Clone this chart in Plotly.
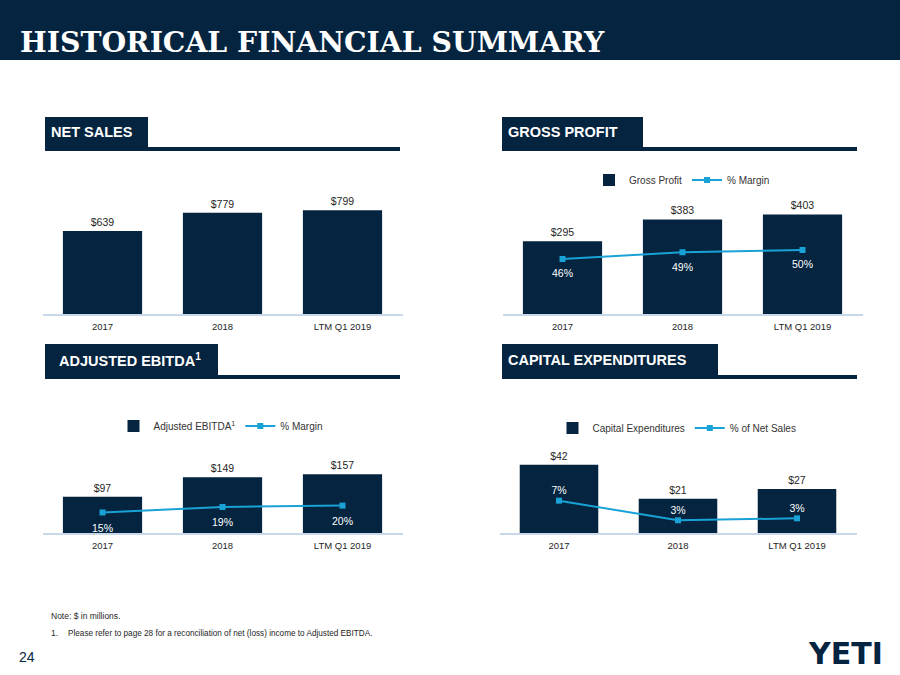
import plotly.graph_objects as go

W, H = 900, 675
NAVY = "#04243f"
BLUE = "#19a2d6"
AXIS = "#c8d8ea"
TXT = "#262626"
FONT = "Liberation Sans, Arial, sans-serif"

categories = ["2017", "2018", "LTM Q1 2019"]
net_sales = [639, 779, 799]
gross_profit = [295, 383, 403]
gross_margin = [46, 49, 50]
adj_ebitda = [97, 149, 157]
ebitda_margin = [15, 19, 20]
capex = [42, 21, 27]
capex_pct = [6.6, 2.6, 3.0]


def px_x(p):
    return p / W


def px_y(p):
    return 1 - p / H


fig = go.Figure()

bar_kw = dict(marker=dict(color=NAVY, line=dict(width=0)), width=0.66,
              texttemplate="$%{y}", textposition="outside",
              textfont=dict(size=10.5, color=TXT, family=FONT), cliponaxis=False)
line_kw = dict(mode="lines+markers", line=dict(color=BLUE, width=2),
               marker=dict(symbol="square", size=6, color=BLUE), cliponaxis=False)
label_kw = dict(mode="markers+text", marker=dict(size=15, color="rgba(0,0,0,0)"),
                texttemplate="%{y:.0f}%", textfont=dict(size=10.5, color="white", family=FONT),
                showlegend=False, hoverinfo="skip", cliponaxis=False)

fig.add_trace(go.Bar(x=categories, y=net_sales, name="Net Sales", xaxis="x", yaxis="y",
                     showlegend=False, **bar_kw))

fig.add_trace(go.Bar(x=categories, y=gross_profit, name="Gross Profit", xaxis="x2", yaxis="y2",
                     legend="legend", **bar_kw))
fig.add_trace(go.Scatter(x=categories, y=gross_margin, name="% Margin", xaxis="x2", yaxis="y3",
                         legend="legend", **line_kw))
fig.add_trace(go.Scatter(x=categories, y=gross_margin, xaxis="x2", yaxis="y3",
                         textposition="bottom center", **label_kw))

fig.add_trace(go.Bar(x=categories, y=adj_ebitda, name="Adjusted EBITDA<sup>1</sup>", xaxis="x3", yaxis="y4",
                     legend="legend2", **bar_kw))
fig.add_trace(go.Scatter(x=categories, y=ebitda_margin, name="% Margin", xaxis="x3", yaxis="y5",
                         legend="legend2", **line_kw))
fig.add_trace(go.Scatter(x=categories, y=ebitda_margin, xaxis="x3", yaxis="y5",
                         textposition="bottom center", **dict(label_kw, marker=dict(size=17, color="rgba(0,0,0,0)"))))

fig.add_trace(go.Bar(x=categories, y=capex, name="Capital Expenditures", xaxis="x4", yaxis="y6",
                     legend="legend3", **bar_kw))
fig.add_trace(go.Scatter(x=categories, y=capex_pct, name="% of Net Sales", xaxis="x4", yaxis="y7",
                         legend="legend3", **line_kw))
fig.add_trace(go.Scatter(x=categories, y=capex_pct, xaxis="x4", yaxis="y7",
                         textposition="top center", **dict(label_kw, marker=dict(size=5, color="rgba(0,0,0,0)"))))

xcommon = dict(type="category", range=[-0.5, 2.5], showline=True, linecolor=AXIS, linewidth=1.5,
               showgrid=False, zeroline=False, ticks="outside", ticklen=3, tickcolor="rgba(0,0,0,0)",
               tickfont=dict(size=9.5, color=TXT, family=FONT), fixedrange=True)
ycommon = dict(visible=False, showgrid=False, zeroline=False, fixedrange=True)

top_dom = [px_y(314), px_y(170)]
bot_dom = [px_y(533), px_y(440)]

legend_font = dict(size=10, color="#333333", family=FONT)

fig.update_layout(
    width=W, height=H, margin=dict(l=0, r=0, t=0, b=0),
    paper_bgcolor="white", plot_bgcolor="rgba(0,0,0,0)",
    font=dict(family=FONT, color=TXT), bargap=0.34,
    xaxis=dict(domain=[px_x(42.5), px_x(402.5)], anchor="y", **xcommon),
    yaxis=dict(domain=top_dom, anchor="x", range=[0, 1108], **ycommon),
    xaxis2=dict(domain=[px_x(502.5), px_x(862.5)], anchor="y2", **xcommon),
    yaxis2=dict(domain=top_dom, anchor="x2", range=[0, 583], **ycommon),
    yaxis3=dict(domain=top_dom, anchor="x2", overlaying="y2", range=[21.56, 85.56], **ycommon),
    xaxis3=dict(domain=[px_x(42.5), px_x(402.5)], anchor="y4", **xcommon),
    yaxis4=dict(domain=bot_dom, anchor="x3", range=[0, 248], **ycommon),
    yaxis5=dict(domain=bot_dom, anchor="x3", overlaying="y4", range=[0, 67.9], **ycommon),
    xaxis4=dict(domain=[px_x(499.5), px_x(856.5)], anchor="y6", **xcommon),
    yaxis6=dict(domain=bot_dom, anchor="x4", range=[0, 57.2], **ycommon),
    yaxis7=dict(domain=bot_dom, anchor="x4", overlaying="y6", range=[0, 19], **ycommon),
    legend=dict(orientation="h", x=px_x(682), y=px_y(180), xanchor="center", yanchor="middle",
                font=legend_font, bgcolor="rgba(0,0,0,0)", itemwidth=30, traceorder="normal"),
    legend2=dict(orientation="h", x=px_x(221), y=px_y(426), xanchor="center", yanchor="middle",
                 font=legend_font, bgcolor="rgba(0,0,0,0)", itemwidth=30, traceorder="normal"),
    legend3=dict(orientation="h", x=px_x(677), y=px_y(428), xanchor="center", yanchor="middle",
                 font=legend_font, bgcolor="rgba(0,0,0,0)", itemwidth=30, traceorder="normal"),
)

shapes = []
annotations = []

# Title band
shapes.append(dict(type="rect", xref="paper", yref="paper", x0=0, x1=1, y0=px_y(60), y1=1,
                   fillcolor=NAVY, line=dict(width=0), layer="below"))
annotations.append(dict(xref="paper", yref="paper", x=px_x(18), y=px_y(42), xanchor="left", yanchor="middle",
                        text="<b>HISTORICAL FINANCIAL SUMMARY</b>", showarrow=False,
                        font=dict(family="DejaVu Serif, serif", size=28.3, color="white")))

# Section headers
sections = [
    ("NET SALES", 45, 148, 400, 117, 151, 49),
    ("GROSS PROFIT", 502, 643, 857, 117, 151, 506),
    ("ADJUSTED EBITDA<sup>1</sup>", 45, 218, 400, 344, 379, 57),
    ("CAPITAL EXPENDITURES", 502, 718, 857, 344, 379, 506),
]
for label, x0, x1, x2, y0, y1, tx in sections:
    shapes.append(dict(type="rect", xref="paper", yref="paper", x0=px_x(x0), x1=px_x(x1),
                       y0=px_y(y1), y1=px_y(y0), fillcolor=NAVY, line=dict(width=0)))
    shapes.append(dict(type="rect", xref="paper", yref="paper", x0=px_x(x1), x1=px_x(x2),
                       y0=px_y(y1), y1=px_y(y1 - 4), fillcolor=NAVY, line=dict(width=0)))
    annotations.append(dict(xref="paper", yref="paper", x=px_x(tx), y=px_y((y0 + y1) / 2 - 2),
                            xanchor="left", yanchor="middle", text="<b>" + label + "</b>", showarrow=False,
                            font=dict(family=FONT, size=14.5, color="white")))

# Footnotes
annotations.append(dict(xref="paper", yref="paper", x=px_x(49), y=px_y(616), xanchor="left", yanchor="middle",
                        text="Note: $ in millions.", showarrow=False, font=dict(family=FONT, size=8.5, color=TXT)))
annotations.append(dict(xref="paper", yref="paper", x=px_x(49), y=px_y(633), xanchor="left", yanchor="middle",
                        text="1.", showarrow=False, font=dict(family=FONT, size=8.5, color=TXT)))
annotations.append(dict(xref="paper", yref="paper", x=px_x(66), y=px_y(633), xanchor="left", yanchor="middle",
                        text="Please refer to page 28 for a reconciliation of net (loss) income to Adjusted EBITDA.",
                        showarrow=False, font=dict(family=FONT, size=8.2, color=TXT)))
annotations.append(dict(xref="paper", yref="paper", x=px_x(17), y=px_y(657), xanchor="left", yanchor="middle",
                        text="24", showarrow=False, font=dict(family=FONT, size=14, color=NAVY)))
annotations.append(dict(xref="paper", yref="paper", x=px_x(885), y=px_y(653), xanchor="right", yanchor="middle",
                        text="<b>YETI</b>", showarrow=False,
                        font=dict(family="DejaVu Sans, sans-serif", size=30, color=NAVY)))

fig.update_layout(shapes=shapes, annotations=annotations)
fig.write_html("out.html", config={"displayModeBar": False},
               post_script="document.body.style.margin='0';document.body.style.overflow='hidden';")
